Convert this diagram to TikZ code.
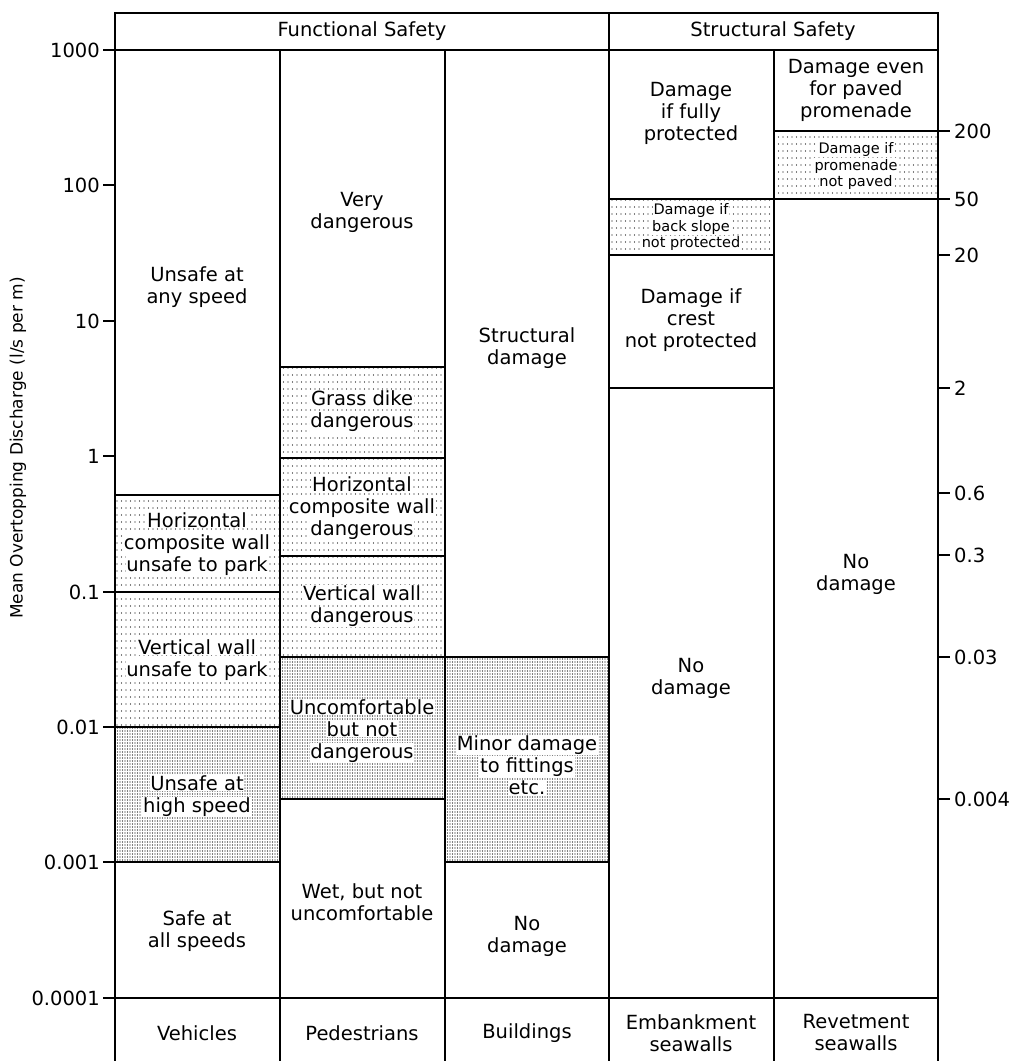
\documentclass[tikz,border=0pt]{standalone}
\usepackage{fontspec}
\setmainfont{DejaVu Sans}
\usetikzlibrary{patterns}
\pgfdeclarepatternformonly{sparsedots}{\pgfqpoint{-1pt}{-1pt}}{\pgfqpoint{3.5pt}{6pt}}{\pgfqpoint{4.5pt}{7pt}}{\pgfpathcircle{\pgfqpoint{0pt}{0pt}}{0.6pt}\pgfusepath{fill}}
\pgfdeclarepatternformonly{densedots}{\pgfqpoint{-1pt}{-1pt}}{\pgfqpoint{1.5pt}{2pt}}{\pgfqpoint{2.5pt}{3pt}}{\pgfpathcircle{\pgfqpoint{0pt}{0pt}}{0.6pt}\pgfusepath{fill}}
\newcommand{\wb}[1]{{\setlength{\fboxsep}{0.8pt}\colorbox{white}{#1}}}

\begin{document}
\begin{tikzpicture}[x=1pt, y=-1pt,
    cell/.style={align=center, font=\fontsize{19.5}{22}\selectfont, inner sep=0pt},
    smallcell/.style={align=center, font=\fontsize{14.5}{14.5}\selectfont, inner sep=0pt},
    axlabel/.style={font=\fontsize{19.5}{22}\selectfont, inner sep=0pt},
    frame/.style={line width=1.3pt},
    light/.style={pattern=sparsedots},
    dense/.style={pattern=densedots}]
    \useasboundingbox (0,0) rectangle (1012,1061);

    % Dotted bands
    \fill[light] (115,495) rectangle (280,727);
    \fill[dense] (115,727) rectangle (280,862);
    \fill[light] (280,367) rectangle (445,657);
    \fill[dense] (280,657) rectangle (445,799);
    \fill[dense] (445,657) rectangle (609,862);
    \fill[light] (609,199) rectangle (774,255);
    \fill[light] (774,131) rectangle (938,199);

    % Frame and columns
    \draw[frame] (115,1061) -- (115,13) -- (938,13) -- (938,1061);
    \draw[frame] (103,50) -- (938,50);
    \draw[frame] (103,998) -- (938,998);
    \draw[frame] (609,13) -- (609,1061);
    \draw[frame] (280,50) -- (280,1061);
    \draw[frame] (445,50) -- (445,1061);
    \draw[frame] (774,50) -- (774,1061);

    % Band limits
    \draw[frame] (115,495) -- (280,495);
    \draw[frame] (115,592) -- (280,592);
    \draw[frame] (115,727) -- (280,727);
    \draw[frame] (115,862) -- (280,862);
    \draw[frame] (280,367) -- (445,367);
    \draw[frame] (280,458) -- (445,458);
    \draw[frame] (280,556) -- (445,556);
    \draw[frame] (280,657) -- (609,657);
    \draw[frame] (280,799) -- (445,799);
    \draw[frame] (445,862) -- (609,862);
    \draw[frame] (609,199) -- (950,199);
    \draw[frame] (609,255) -- (774,255);
    \draw[frame] (609,388) -- (774,388);
    \draw[frame] (774,131) -- (950,131);

    % Left ticks
    \draw[frame] (103,185) -- (115,185);
    \draw[frame] (103,321) -- (115,321);
    \draw[frame] (103,456) -- (115,456);
    \draw[frame] (103,592) -- (115,592);
    \draw[frame] (103,727) -- (115,727);
    \draw[frame] (103,862) -- (115,862);

    % Right ticks
    \draw[frame] (938,255) -- (950,255);
    \draw[frame] (938,388) -- (950,388);
    \draw[frame] (938,493) -- (950,493);
    \draw[frame] (938,555) -- (950,555);
    \draw[frame] (938,657) -- (950,657);
    \draw[frame] (938,799) -- (950,799);

    % Headers
    \node[cell] at (362,31) (functional) {Functional Safety};
    \node[cell] at (773,31) (structural) {Structural Safety};

    % Vehicles
    \node[cell] at (197,287) (anyspeed) {Unsafe at\\any speed};
    \node[cell] at (197,544) (hcwpark) {\wb{Horizontal}\\\wb{composite wall}\\\wb{unsafe to park}};
    \node[cell] at (197,660) (vwpark) {\wb{Vertical wall}\\\wb{unsafe to park}};
    \node[cell] at (197,796) (highspeed) {\wb{Unsafe at}\\\wb{high speed}};
    \node[cell] at (197,931) (allspeeds) {Safe at\\all speeds};

    % Pedestrians
    \node[cell] at (362,212) (verydanger) {Very\\dangerous};
    \node[cell] at (362,411) (grassdike) {\wb{Grass dike}\\\wb{dangerous}};
    \node[cell] at (362,508) (hcwdanger) {\wb{Horizontal}\\\wb{composite wall}\\\wb{dangerous}};
    \node[cell] at (362,606) (vwdanger) {\wb{Vertical wall}\\\wb{dangerous}};
    \node[cell] at (362,731) (uncomf) {\wb{Uncomfortable}\\\wb{but not}\\\wb{dangerous}};
    \node[cell] at (362,902) (wet) {Wet, but not\\uncomfortable};

    % Buildings
    \node[cell] at (527,348) (structdmg) {Structural\\damage};
    \node[cell] at (527,765) (minordmg) {\wb{Minor damage}\\\wb{to fittings}\\\wb{etc.}};
    \node[cell] at (527,936) (bldnodmg) {No\\damage};

    % Embankment seawalls
    \node[cell] at (691,113) (fullyprot) {Damage\\if fully\\protected};
    \node[smallcell] at (691,227) (backslope) {\wb{Damage if}\\\wb{back slope}\\\wb{not protected}};
    \node[cell] at (691,320) (crest) {Damage if\\crest\\not protected};
    \node[cell] at (691,678) (embnodmg) {No\\damage};

    % Revetment seawalls
    \node[cell] at (856,90) (paved) {Damage even\\for paved\\promenade};
    \node[smallcell] at (856,166) (notpaved) {\wb{Damage if}\\\wb{promenade}\\\wb{not paved}};
    \node[cell] at (856,574) (revnodmg) {No\\damage};

    % Column names
    \node[cell] at (197,1033) (vehicles) {Vehicles};
    \node[cell] at (362,1033) (pedestrians) {Pedestrians};
    \node[cell] at (527,1033) (buildings) {Buildings};
    \node[cell] at (691,1033) (embankment) {Embankment\\seawalls};
    \node[cell] at (856,1033) (revetment) {Revetment\\seawalls};

    % Left axis
    \node[axlabel, anchor=east] at (100,50) (l1000) {1000};
    \node[axlabel, anchor=east] at (100,185) (l100) {100};
    \node[axlabel, anchor=east] at (100,321) (l10) {10};
    \node[axlabel, anchor=east] at (100,456) (l1) {1};
    \node[axlabel, anchor=east] at (100,592) (l01) {0.1};
    \node[axlabel, anchor=east] at (100,727) (l001) {0.01};
    \node[axlabel, anchor=east] at (100,862) (l0001) {0.001};
    \node[axlabel, anchor=east] at (100,998) (l00001) {0.0001};
    \node[rotate=90, font=\fontsize{17}{20}\selectfont] at (18,448) (ytitle) {Mean Overtopping Discharge (l/s per m)};

    % Right axis
    \node[axlabel, anchor=west] at (954,131) (r200) {200};
    \node[axlabel, anchor=west] at (954,199) (r50) {50};
    \node[axlabel, anchor=west] at (954,255) (r20) {20};
    \node[axlabel, anchor=west] at (954,388) (r2) {2};
    \node[axlabel, anchor=west] at (954,493) (r06) {0.6};
    \node[axlabel, anchor=west] at (954,555) (r03) {0.3};
    \node[axlabel, anchor=west] at (954,657) (r003) {0.03};
    \node[axlabel, anchor=west] at (954,799) (r0004) {0.004};
\end{tikzpicture}
\end{document}
